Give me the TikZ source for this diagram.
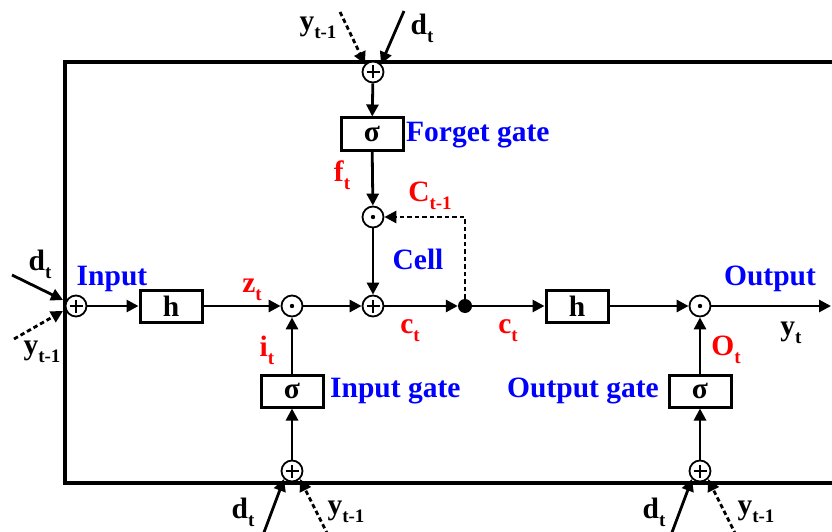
\documentclass[tikz,border=0pt]{standalone}
\usepackage{fontspec}
\setmainfont{Liberation Serif}
\usetikzlibrary{arrows.meta}
\newcommand{\sbs}[1]{\raisebox{-0.28em}{\fontsize{19}{19}\selectfont #1}}
\tikzset{
  base/.style={font=\fontsize{29.5}{31}\selectfont\bfseries},
  blu/.style={base,text=blue,inner sep=0pt},
  rd/.style={base,text=red,inner sep=0pt},
  bk/.style={base,text=black,inner sep=0pt},
  arr/.style={line width=2.8pt,-{Triangle[length=12pt,width=12pt]}},
  dsh/.style={arr,dash pattern=on 4.5pt off 3pt},
  fbox/.style={draw,line width=3pt,minimum width=62pt,minimum height=32pt,inner sep=0pt,base,fill=white},
  opl/.style={circle,draw,line width=1.8pt,minimum size=21pt,inner sep=0pt,fill=white,
    path picture={\draw[black,line width=1.4pt] ([xshift=-6.5pt]path picture bounding box.center) -- ([xshift=6.5pt]path picture bounding box.center);
                  \draw[black,line width=1.4pt] ([yshift=-6.5pt]path picture bounding box.center) -- ([yshift=6.5pt]path picture bounding box.center);}},
  odt/.style={circle,draw,line width=1.8pt,minimum size=21pt,inner sep=0pt,fill=white,
    path picture={\fill[black] (path picture bounding box.center) circle (2.2pt);}},
}
\begin{document}
\begin{tikzpicture}[x=1pt,y=-1pt]
\useasboundingbox (0,0) rectangle (832,532);
\clip (0,0) rectangle (832,532);
% frame
\draw[line width=3.8pt] (850,62) -- (65,62) -- (65,483) -- (850,483);
% nodes
\node[opl] (in) at (76,306) {};
\node[fbox] (h1) at (171,306) {h};
\node[odt] (m1) at (292,306) {};
\node[opl] (a1) at (373,306) {};
\node[circle,fill,inner sep=0pt,minimum size=14pt] (dot) at (465,306) {};
\node[fbox] (h2) at (577,306) {h};
\node[odt] (m2) at (700,306) {};
\coordinate (oend) at (831,306);
\node[opl] (fa) at (373,72) {};
\node[fbox] (fs) at (372,134) {σ};
\node[odt] (fm) at (373,217) {};
\node[fbox] (is) at (292,391) {σ};
\node[opl] (ia) at (292,471) {};
\node[fbox] (os) at (700,391) {σ};
\node[opl] (oa) at (700,471) {};
% main flow
\draw[arr] (in) -- (h1);
\draw[arr] (h1) -- (m1);
\draw[arr] (m1) -- (a1);
\draw[arr] (a1) -- (dot);
\draw[arr] (dot) -- (h2);
\draw[arr] (h2) -- (m2);
\draw[arr] (m2) -- (oend);
\draw[arr] (fa) -- (fs);
\draw[arr] (fs) -- (fm);
\draw[arr] (fm) -- (a1);
\draw[dsh] (dot.center) |- (fm);
\draw[arr] (is) -- (m1);
\draw[arr] (ia) -- (is);
\draw[arr] (os) -- (m2);
\draw[arr] (oa) -- (os);
% external inputs
\coordinate (ld) at (12,275); \coordinate (ly) at (14,339);
\draw[arr] (ld) -- (63,300);
\draw[dsh] (ly) -- (63,311);
\coordinate (td) at (404,11); \coordinate (ty) at (340,12);
\draw[arr] (td) -- (fa.north east);
\draw[dsh] (ty) -- (fa.north west);
\coordinate (bd1) at (263,535); \coordinate (by1) at (328,535);
\draw[arr] (bd1) -- (ia.south west);
\draw[dsh] (by1) -- (ia.south east);
\coordinate (bd2) at (671,535); \coordinate (by2) at (736,535);
\draw[arr] (bd2) -- (oa.south west);
\draw[dsh] (by2) -- (oa.south east);
% labels
\node[bk] (l1) at (40,264) {d\sbs{t}};
\node[bk] (l2) at (42,352) {y\sbs{t-1}};
\node[blu] (l3) at (112,279) {Input};
\node[rd] (l4) at (252,290) {z\sbs{t}};
\node[rd] (l5) at (267,350) {i\sbs{t}};
\node[rd] (l6) at (410,331) {c\sbs{t}};
\node[rd] (l7) at (508,331) {c\sbs{t}};
\node[rd] (l8) at (342,175) {f\sbs{t}};
\node[rd] (l9) at (430,196) {C\sbs{t-1}};
\node[blu] (l10) at (418,259) {Cell};
\node[blu,anchor=west] (l11) at (406,135) {Forget gate};
\node[blu,anchor=west] (l12) at (330,391) {Input gate};
\node[blu,anchor=east] (l13) at (659,391) {Output gate};
\node[rd] (l14) at (726,350) {O\sbs{t}};
\node[blu] (l15) at (770,279) {Output};
\node[bk] (l16) at (791,333) {y\sbs{t}};
\node[bk] (l17) at (318,28) {y\sbs{t-1}};
\node[bk] (l18) at (422,28) {d\sbs{t}};
\node[bk] (l19) at (243,512) {d\sbs{t}};
\node[bk] (l20) at (346,512) {y\sbs{t-1}};
\node[bk] (l21) at (654,512) {d\sbs{t}};
\node[bk] (l22) at (756,512) {y\sbs{t-1}};
\end{tikzpicture}
\end{document}
